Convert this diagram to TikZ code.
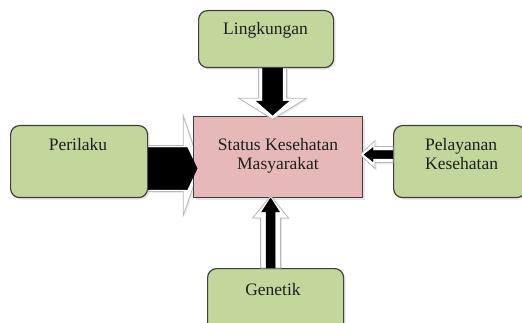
\documentclass[tikz,border=0pt]{standalone}
\usepackage{fontspec}
\setmainfont{Liberation Serif}
\usetikzlibrary{shadows,calc}
\definecolor{boxgreen}{HTML}{C3D69B}
\definecolor{boxpink}{HTML}{E6B9B8}
\definecolor{edgegray}{HTML}{3F3F3F}
\begin{document}
\begin{tikzpicture}[x=1pt,y=-1pt,
  box/.style={draw=edgegray, line width=1.2pt, rounded corners=9pt, fill=boxgreen,
    drop shadow={opacity=0.2,shadow xshift=2pt,shadow yshift=-2pt}},
  centerbox/.style={draw=edgegray, line width=1.2pt, fill=boxpink,
    drop shadow={opacity=0.2,shadow xshift=2pt,shadow yshift=-2pt}},
  lbl/.style={font=\fontsize{17.5}{19.5}\selectfont, text=black!88, inner sep=0pt},
  whitearrow/.style={fill=white, draw=black!28, line width=0.8pt, line join=miter,
    drop shadow={opacity=0.15,shadow xshift=1.5pt,shadow yshift=-1.5pt}},
  blackarrow/.style={fill=black, draw=black, line width=0.4pt}]
\clip (0,0) rectangle (522,323);
\fill[white] (0,0) rectangle (522,323);
% boxes
\node[box, minimum width=137pt, minimum height=72pt, anchor=north west] (per) at (10,125) {};
\node[box, minimum width=132pt, minimum height=72pt, anchor=north west] (pel) at (393,125) {};
\node[box, minimum width=135pt, minimum height=57pt, anchor=north west] (ling) at (198,10) {};
\node[box, minimum width=136pt, minimum height=70pt, anchor=north west] (gen) at (207,268) {};
% left arrow (white part, behind centre box)
\coordinate (aL) at ($(per.east)+(0,7)$);
\begin{scope}[shift={(aL)}]
  \draw[whitearrow] (0,-23) -- (35,-23) -- (35,-53) -- (52,-2) -- (35,47) -- (35,23) -- (0,23) -- cycle;
\end{scope}
% centre box
\node[centerbox, minimum width=169pt, minimum height=81pt, anchor=north west] (stat) at (193,116) {};
% left arrow black part
\begin{scope}[shift={(aL)}]
  \draw[blackarrow] (0,-21) -- (39,-21) -- (49,0) -- (39,21) -- (0,21) -- cycle;
\end{scope}
% top arrow
\coordinate (aT) at ($(ling.south)+(6.5,0)$);
\begin{scope}[shift={(aT)}]
  \draw[whitearrow] (-14,0) -- (14,0) -- (14,30) -- (34,30) -- (0,51) -- (-34,30) -- (-14,30) -- cycle;
  \draw[blackarrow] (-10,0) -- (10,0) -- (10,33) -- (16,33) -- (0,47) -- (-16,33) -- (-10,33) -- cycle;
\end{scope}
% right arrow
\coordinate (aR) at ($(pel.west)+(0,-7)$);
\begin{scope}[shift={(aR)}]
  \draw[whitearrow] (0,-8) -- (-18,-8) -- (-18,-14) -- (-33,0) -- (-18,14) -- (-18,8) -- (0,8) -- cycle;
  \draw[blackarrow] (0,-4) -- (-20,-4) -- (-20,-7) -- (-29,0) -- (-20,7) -- (-20,4) -- (0,4) -- cycle;
\end{scope}
% bottom arrow
\coordinate (aB) at ($(gen.north)+(-5,0)$);
\begin{scope}[shift={(aB)}]
  \draw[whitearrow] (-10,0) -- (10,0) -- (10,-50) -- (18,-50) -- (0,-72) -- (-18,-50) -- (-10,-50) -- cycle;
  \draw[blackarrow] (-4.5,0) -- (4.5,0) -- (4.5,-56) -- (9,-56) -- (0,-70) -- (-9,-56) -- (-4.5,-56) -- cycle;
\end{scope}
% labels
\node[lbl] (tling) at (265.5,30) {Lingkungan};
\node[lbl] (tper) at (78,145) {Perilaku};
\node[lbl, align=center] (tstat) at (278,156) {Status Kesehatan\\Masyarakat};
\node[lbl, align=left, anchor=west] (tpel) at (425,154) {Pelayanan\\Kesehatan};
\node[lbl] (tgen) at (273,290) {Genetik};
\end{tikzpicture}
\end{document}
